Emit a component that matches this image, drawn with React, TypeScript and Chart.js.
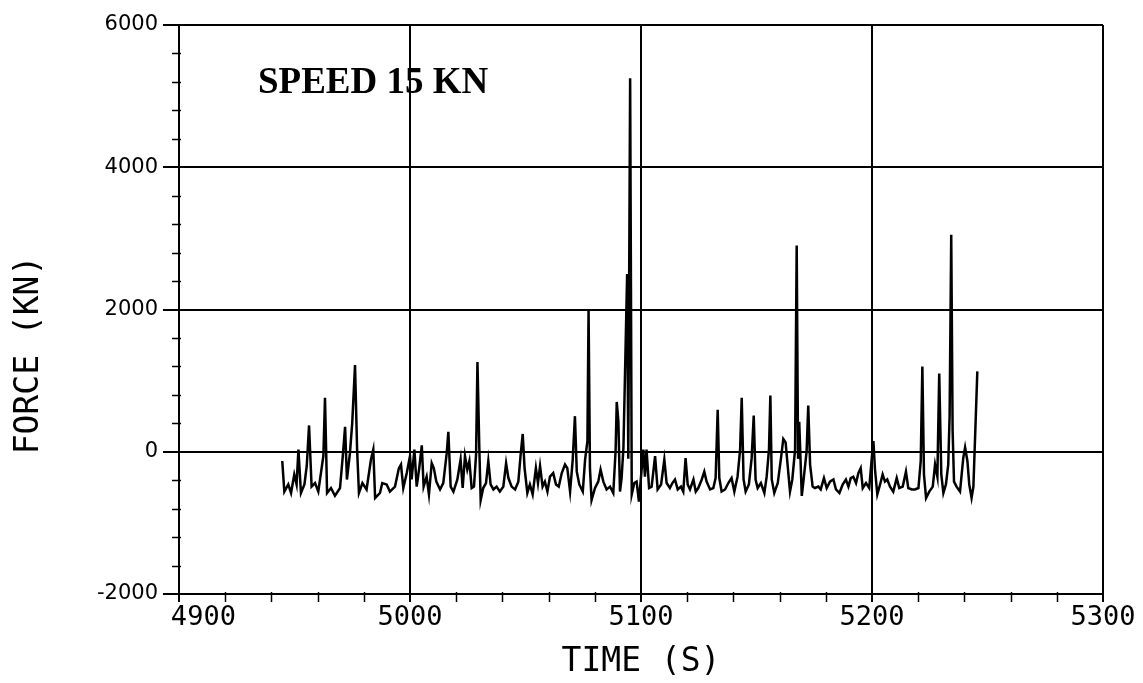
import { useEffect, useRef } from "react";
import { Chart, registerables } from "chart.js";

Chart.register(...registerables);

// Mooring force record, time in seconds and force in kN
const timeS = [
  4944.7, 4945.6, 4947.3, 4948.5, 4949.9, 4950.9, 4951.7, 4952.8, 4954.3, 4955.3,
  4956.3, 4957.4, 4958.9, 4960.3, 4962.5, 4963.2, 4964.1, 4965.8, 4967.5, 4969.7,
  4970.9, 4971.9, 4972.7, 4974.0, 4975.0, 4976.2, 4977.1, 4977.9, 4979.4, 4981.2,
  4983.1, 4984.1, 4984.9, 4987.0, 4988.0, 4989.9, 4991.3, 4993.5, 4995.2, 4996.1,
  4997.1, 4998.6, 5000.0, 5000.7, 5001.9, 5002.9, 5004.0, 5005.1, 5005.9, 5007.2,
  5008.2, 5009.4, 5010.3, 5011.4, 5013.0, 5014.4, 5015.9, 5016.6, 5017.6, 5018.8,
  5020.5, 5021.9, 5022.8, 5023.8, 5024.8, 5025.7, 5026.7, 5027.7, 5028.6, 5029.2,
  5030.0, 5030.6, 5031.7, 5032.9, 5033.9, 5034.9, 5036.1, 5037.5, 5038.9, 5040.4,
  5041.6, 5042.6, 5044.0, 5045.5, 5046.9, 5047.9, 5048.8, 5049.6, 5050.8, 5051.9,
  5053.1, 5054.5, 5055.4, 5056.3, 5057.4, 5058.4, 5059.5, 5060.6, 5062.0, 5063.2,
  5064.4, 5065.7, 5067.1, 5068.1, 5069.3, 5070.4, 5071.4, 5072.2, 5073.3, 5074.8,
  5075.8, 5076.8, 5077.3, 5077.9, 5078.6, 5080.1, 5081.5, 5082.5, 5083.7, 5085.1,
  5086.6, 5088.0, 5089.0, 5089.5, 5090.2, 5090.9, 5091.6, 5092.4, 5094.0, 5094.5,
  5095.3, 5096.0, 5097.1, 5098.1, 5099.1, 5101.0, 5101.7, 5102.4, 5103.5, 5104.6,
  5106.1, 5107.2, 5108.7, 5110.1, 5111.1, 5112.5, 5113.6, 5114.7, 5115.9, 5117.3,
  5118.3, 5119.3, 5120.2, 5121.2, 5122.7, 5123.7, 5124.8, 5126.3, 5127.4, 5128.4,
  5129.9, 5131.3, 5132.3, 5133.2, 5133.9, 5134.9, 5136.4, 5137.8, 5139.2, 5140.4,
  5141.8, 5142.9, 5143.6, 5144.4, 5145.3, 5146.7, 5147.9, 5148.8, 5149.6, 5150.5,
  5151.9, 5153.4, 5154.4, 5155.4, 5156.0, 5156.6, 5157.7, 5159.2, 5160.6, 5161.6,
  5162.6, 5163.5, 5164.5, 5165.5, 5166.7, 5167.4, 5168.0, 5168.5, 5169.6, 5170.3,
  5171.7, 5172.4, 5173.2, 5174.3, 5175.3, 5176.8, 5177.8, 5179.2, 5180.4, 5181.8,
  5183.3, 5184.4, 5185.9, 5187.3, 5188.7, 5189.8, 5190.8, 5191.9, 5193.1, 5194.1,
  5195.1, 5196.0, 5197.4, 5198.8, 5199.9, 5200.6, 5201.3, 5202.3, 5203.5, 5204.6,
  5205.6, 5206.6, 5207.8, 5209.2, 5210.7, 5211.8, 5213.3, 5214.7, 5215.7, 5217.2,
  5218.6, 5220.1, 5221.1, 5221.8, 5222.5, 5223.4, 5224.8, 5226.3, 5227.3, 5228.3,
  5229.1, 5230.0, 5230.9, 5232.0, 5233.0, 5233.6, 5234.3, 5234.9, 5235.5, 5236.6,
  5238.1, 5239.5, 5240.3, 5241.3, 5242.1, 5243.1, 5243.9, 5245.6,
];

const forceKN = [
  -130, -560, -460, -580, -320, -460, 30, -580, -460, -200,
  370, -490, -440, -560, -60, 760, -580, -510, -620, -510,
  -60, 350, -390, -20, 410, 1220, 30, -580, -440, -530,
  -110, 30, -650, -580, -440, -460, -560, -490, -230, -180,
  -510, -300, -60, -390, 30, -490, -230, 90, -490, -350,
  -600, -160, -230, -420, -530, -440, -20, 280, -490, -560,
  -390, -110, -510, -60, -250, -130, -510, -490, -40, 1260,
  60, -680, -510, -440, -130, -460, -530, -490, -560, -490,
  -160, -370, -490, -530, -420, -40, 250, -230, -580, -460,
  -600, -230, -440, -200, -490, -420, -560, -350, -300, -460,
  -490, -300, -180, -230, -560, -130, 500, -280, -460, -560,
  -110, 150, 2000, -230, -680, -510, -420, -250, -420, -530,
  -490, -580, 10, 700, 430, -560, -370, 60, 2500, -100,
  5250, -600, -440, -420, -700, 30, -350, 30, -510, -490,
  -60, -530, -460, -110, -440, -510, -440, -390, -530, -490,
  -560, -90, -460, -530, -390, -560, -510, -390, -280, -420,
  -530, -510, -370, 590, -370, -560, -530, -440, -370, -560,
  -350, 30, 760, -390, -560, -460, -90, 510, -390, -510,
  -440, -580, -350, 30, 790, -390, -580, -440, -90, 180,
  130, -200, -560, -390, 30, 2900, -100, 420, -620, -420,
  10, 650, -180, -490, -510, -490, -530, -370, -510, -420,
  -390, -530, -580, -460, -390, -490, -370, -350, -440, -300,
  -230, -510, -440, -510, -90, 150, -250, -600, -460, -320,
  -420, -390, -490, -560, -370, -510, -490, -280, -510, -530,
  -530, -510, -130, 1200, -320, -650, -560, -490, -180, -350,
  1100, -320, -580, -460, -180, 500, 3050, 300, -420, -490,
  -560, -90, 60, -130, -460, -650, -490, 1130,
];

const xTickValues = [4900, 5000, 5100, 5200, 5300];
const yTickValues = [-2000, 0, 2000, 4000, 6000];
const xMinorStep = 20;
const yMinorStep = 400;

const caseLabel = "SPEED 15 KN";
const xTitle = "TIME (S)";
const yTitle = "FORCE (KN)";

const plotterFont = "'DejaVu Sans Mono', monospace";

// Short minor tick marks along the left and bottom axes
const minorTicks = {
  id: "minorTicks",
  afterDraw(chart: any) {
    const { ctx, chartArea, scales } = chart;
    const xs = scales.x;
    const ys = scales.y;
    ctx.save();
    ctx.strokeStyle = "#000";
    ctx.lineWidth = 1.5;
    for (let v = ys.min; v <= ys.max; v += yMinorStep) {
      if (yTickValues.includes(v)) continue;
      const py = Math.round(ys.getPixelForValue(v)) + 0.5;
      ctx.beginPath();
      ctx.moveTo(chartArea.left - 7, py);
      ctx.lineTo(chartArea.left + 2, py);
      ctx.stroke();
    }
    for (let v = xs.min; v <= xs.max; v += xMinorStep) {
      if (xTickValues.includes(v)) continue;
      const px = Math.round(xs.getPixelForValue(v)) + 0.5;
      ctx.beginPath();
      ctx.moveTo(px, chartArea.bottom - 2);
      ctx.lineTo(px, chartArea.bottom + 8);
      ctx.stroke();
    }
    ctx.restore();
  },
};

// Axis titles and the run label
const chartText = {
  id: "chartText",
  afterDraw(chart: any) {
    const { ctx, chartArea } = chart;
    ctx.save();
    ctx.fillStyle = "#000";

    ctx.font = `33px ${plotterFont}`;
    ctx.textAlign = "center";
    ctx.textBaseline = "middle";
    ctx.fillText(xTitle, (chartArea.left + chartArea.right) / 2, 662);

    ctx.save();
    ctx.translate(29, 355);
    ctx.rotate(-Math.PI / 2);
    ctx.fillText(yTitle, 0, 0);
    ctx.restore();

    ctx.font = "bold 37px 'Liberation Serif', 'Times New Roman', serif";
    ctx.textAlign = "left";
    ctx.textBaseline = "alphabetic";
    ctx.fillText(caseLabel, 258, 93);
    ctx.restore();
  },
};

export default function App() {
  const canvasRef = useRef<HTMLCanvasElement | null>(null);

  useEffect(() => {
    if (!canvasRef.current) return;
    const points = timeS.map((t, i) => ({ x: t, y: forceKN[i] }));

    const chart = new Chart(canvasRef.current, {
      type: "line",
      data: {
        datasets: [
          {
            data: points,
            borderColor: "#000",
            borderWidth: 2.5,
            pointRadius: 0,
            tension: 0,
            fill: false,
          },
        ],
      },
      options: {
        animation: false,
        responsive: false,
        events: [],
        layout: { padding: { top: 25, right: 40, left: 0, bottom: 0 } },
        plugins: {
          legend: { display: false },
          tooltip: { enabled: false },
        },
        scales: {
          x: {
            type: "linear",
            min: 4900,
            max: 5300,
            afterBuildTicks: (s: any) => {
              s.ticks = xTickValues.map((value) => ({ value }));
            },
            afterFit: (s: any) => {
              s.height = 89;
            },
            ticks: {
              color: "#000",
              font: { family: plotterFont, size: 27 },
              padding: 0,
              maxRotation: 0,
              autoSkip: false,
              // the first label sits just right of the corner
              callback: (v: any) => (v === xTickValues[0] ? `   ${v}` : `${v}`),
            },
            grid: {
              color: "#000",
              lineWidth: 2,
              tickLength: 8,
            },
            border: { display: true, color: "#000", width: 2 },
          },
          y: {
            type: "linear",
            min: -2000,
            max: 6000,
            afterBuildTicks: (s: any) => {
              s.ticks = yTickValues.map((value) => ({ value }));
            },
            afterFit: (s: any) => {
              s.width = 179;
            },
            ticks: {
              color: "#000",
              font: { family: "'DejaVu Sans', sans-serif", size: 21 },
              padding: 5,
              autoSkip: false,
              callback: (v: any) => `${v}`,
            },
            grid: {
              color: "#000",
              lineWidth: 2,
              tickLength: 16,
            },
            border: { display: true, color: "#000", width: 2 },
          },
        },
      },
      plugins: [minorTicks, chartText],
    });

    return () => chart.destroy();
  }, []);

  return (
    <div
      style={{
        position: "fixed",
        left: 0,
        top: 0,
        width: 1143,
        height: 683,
        background: "#fff",
      }}
    >
      <canvas ref={canvasRef} width={1143} height={683} style={{ display: "block" }} />
    </div>
  );
}
